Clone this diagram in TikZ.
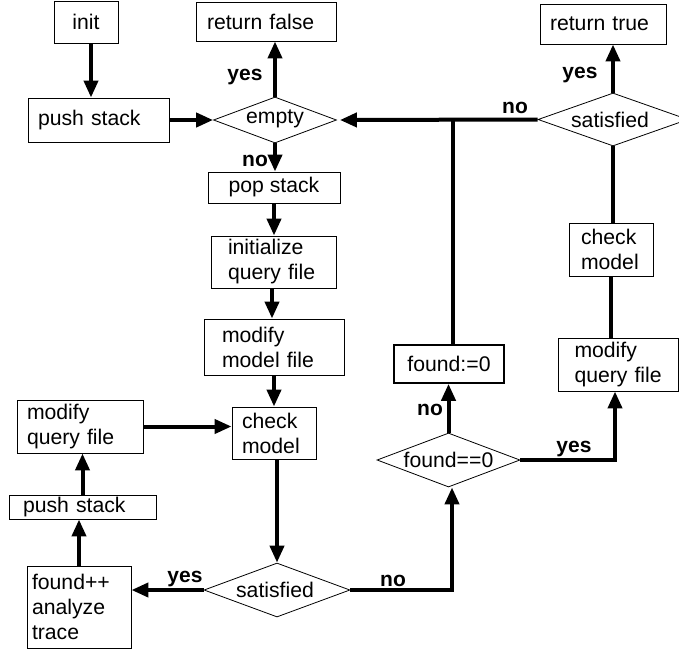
\documentclass[tikz,border=0pt]{standalone}
\usepackage{fontspec}
\setmainfont{Liberation Sans}
\usetikzlibrary{arrows.meta,shapes.geometric,calc}
\begin{document}
\begin{tikzpicture}[x=1pt,y=-1pt,
  font=\fontsize{21.2}{25}\selectfont,
  box/.style={draw,line width=0.9pt,rectangle,inner ysep=0pt,align=left},
  cbox/.style={draw,line width=0.9pt,rectangle,inner sep=0pt,align=center},
  dia/.style={draw,line width=0.8pt,diamond,inner sep=0pt},
  arr/.style={line width=4pt,-{Triangle[width=14pt,length=17pt]}},
  ln/.style={line width=4pt},
  lab/.style={font=\fontsize{21}{25}\selectfont\bfseries,anchor=base,inner sep=0pt},
  dtext/.style={inner sep=0pt}
]
\useasboundingbox (0,0) rectangle (679,651);
% boxes
\node[cbox,minimum width=64pt,minimum height=42pt] (init) at (86,22) {init};
\node[box,minimum width=140pt,minimum height=39pt,inner xsep=11pt,text width=118pt] (retfalse) at (266,21.5) {return false};
\node[box,minimum width=141pt,minimum height=44pt,inner xsep=10pt,text width=121pt] (push1) at (98.5,120) {push stack};
\node[cbox,minimum width=132pt,minimum height=31pt] (pop) at (274,187.5) {pop stack};
\node[box,minimum width=125pt,minimum height=52pt,inner xsep=17pt,text width=91pt] (initq) at (273.5,262) {initialize\\query file};
\node[box,minimum width=140pt,minimum height=56pt,inner xsep=18pt,text width=104pt] (modmodel) at (274,347) {modify\\model file};
\node[box,minimum width=84pt,minimum height=52pt,inner xsep=10pt,text width=64pt] (checkL) at (274,433) {check\\model};
\node[box,minimum width=126pt,minimum height=53pt,inner xsep=10pt,text width=106pt] (modqL) at (80,426.5) {modify\\query file};
\node[box,minimum width=147pt,minimum height=24pt,inner xsep=14pt,text width=119pt] (pushB) at (82.5,507) {push stack};
\node[box,minimum width=104pt,minimum height=82pt,inner xsep=5pt,text width=94pt] (foundpp) at (79,607) {found++\\analyze\\trace};
\node[cbox,line width=1.6pt,minimum width=110pt,minimum height=38pt] (found0) at (449,364) {found:=0};
\node[box,minimum width=120pt,minimum height=53pt,inner xsep=16pt,text width=88pt] (modqR) at (618.5,364.5) {modify\\query file};
\node[box,minimum width=84pt,minimum height=53pt,inner xsep=12pt,text width=60pt] (checkR) at (611,249.5) {check\\model};
\node[box,minimum width=126pt,minimum height=40pt,inner xsep=10pt,text width=106pt] (rettrue) at (603,24) {return true};
% diamonds
\node[dia,minimum width=123pt,minimum height=46pt] (empty) at (275,120) {};
\node[dtext] (emptyt) at ([yshift=1.5pt]empty.center) {empty};
\node[dia,minimum width=150pt,minimum height=53pt] (satT) at (613,119.5) {};
\node[dtext] (satTt) at ([xshift=-3pt]satT.center) {satisfied};
\node[dia,minimum width=146pt,minimum height=54pt] (satB) at (277,590) {};
\node[dtext] (satBt) at ([xshift=-2pt]satB.center) {satisfied};
\node[dia,minimum width=143pt,minimum height=54pt] (feq) at (448.5,460) {};
\node[dtext] (feqt) at (feq.center) {found==0};
% connectors
\draw[arr] ([xshift=5pt]init.south) -- ([xshift=-7.5pt]push1.north);
\draw[arr] (push1.east) -- (empty.west);
\draw[arr] (empty.north) -- (empty.north |- retfalse.south);
\node[lab] (l1) at (245,80) {yes};
\draw[arr] (empty.south) -- (empty.south |- pop.north);
\node[lab] (l2) at (255,166) {no};
\draw[arr] (pop.south) -- (pop.south |- initq.north);
\draw[arr] ([xshift=-1.5pt]initq.south) -- ([xshift=-1.5pt]initq.south |- modmodel.north);
\draw[arr] (modmodel.south) -- (modmodel.south |- checkL.north);
\draw[arr] (modqL.east) -- (modqL.east -| checkL.west);
\draw[arr] (pushB.north) -- (pushB.north |- modqL.south);
\draw[arr] (foundpp.north) -- (foundpp.north |- pushB.south);
\draw[arr] (satB.north |- checkL.south) -- (satB.north);
\draw[arr] (satB.west) -- (satB.west -| foundpp.east);
\node[lab] (l3) at (185,582) {yes};
\draw[arr] (satB.east) -| ([xshift=3.5pt]feq.south);
\node[lab] (l4) at (393,586) {no};
\draw[arr] (feq.north) -- (feq.north |- found0.south);
\node[lab] (l5) at (430,415) {no};
\draw[ln] ([xshift=4pt]found0.north) -- ([xshift=4pt]found0.north |- empty.east);
\draw[arr,shorten >=3pt] (satT.west) -- (empty.east);
\node[lab] (l6) at (515,113) {no};
\draw[arr] (feq.east) -| ([xshift=-3.5pt]modqR.south);
\node[lab] (l7) at (574,452) {yes};
\draw[ln] ([xshift=-7.5pt]modqR.north) -- ([xshift=-7.5pt]modqR.north |- checkR.south);
\draw[ln] (satT.south |- checkR.north) -- (satT.south);
\draw[arr] (satT.north) -- (satT.north |- rettrue.south);
\node[lab] (l8) at (580,78) {yes};
\end{tikzpicture}
\end{document}
